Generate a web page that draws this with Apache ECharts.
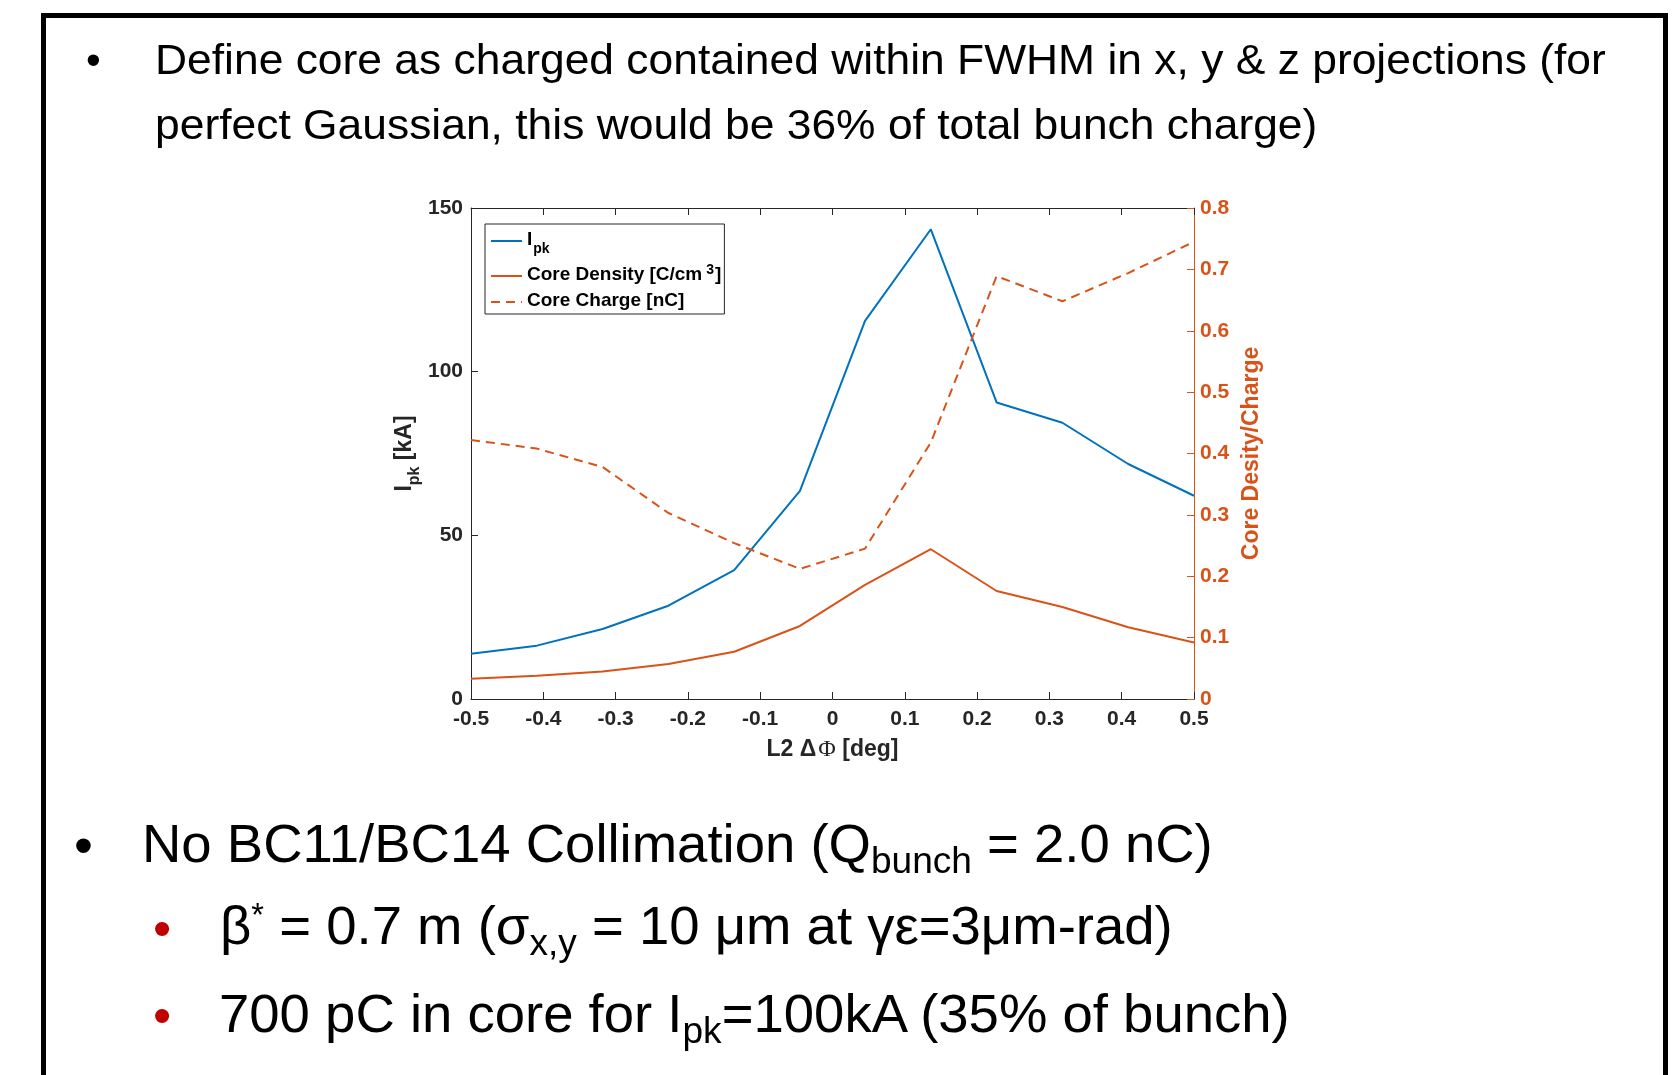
<!DOCTYPE html>
<html>
<head>
<meta charset="utf-8">
<script src="https://cdn.jsdelivr.net/npm/echarts@6/dist/echarts.min.js"></script>
<style>
html,body{margin:0;padding:0;background:#fff;}
body{width:1680px;height:1075px;position:relative;overflow:hidden;font-family:"Liberation Sans",Arial,Helvetica,sans-serif;}
#frame{position:absolute;left:41px;top:13px;width:1617px;height:1100px;border:5px solid #000;border-bottom:none;box-sizing:content-box;}
#chart{position:absolute;left:0;top:0;width:1680px;height:1075px;}
.t{position:absolute;white-space:nowrap;color:#000;line-height:1;transform-origin:0 0;}
.sub{font-size:0.68em;vertical-align:-0.3em;line-height:0;}
.sup{font-size:0.6em;vertical-align:0.55em;line-height:0;}
</style>
</head>
<body>
<div id="frame"></div>
<div id="chart"></div>
<script>
// ---- data ----
const phaseOffsets = [-0.5, -0.409, -0.318, -0.227, -0.136, -0.045, 0.045, 0.136, 0.227, 0.318, 0.409, 0.5];
const peakCurrent  = [13.8, 16.3, 21.4, 28.5, 39.4, 63.6, 115.5, 143.5, 90.6, 84.4, 71.8, 62.1];
const coreDensity  = [0.033, 0.038, 0.045, 0.057, 0.077, 0.119, 0.186, 0.244, 0.176, 0.150, 0.117, 0.092];
const coreCharge   = [0.422, 0.408, 0.378, 0.303, 0.254, 0.212, 0.245, 0.418, 0.689, 0.648, 0.694, 0.745];
const seriesNames  = ['Ipk', 'Core Density', 'Core Charge'];

// ---- slide text ----
const textLines = [
  {html: '•', x: 86, base: 75, size: 42, color: '#000', sx: 1},
  {html: 'Define core as charged contained within FWHM in x, y &amp; z projections (for', x: 155, base: 75, size: 42, color: '#000', sx: 1.057},
  {html: 'perfect Gaussian, this would be 36% of total bunch charge)', x: 155, base: 140, size: 42, color: '#000', sx: 1.057},
  {html: '•', x: 74, base: 864, size: 54, color: '#000', sx: 1},
  {html: 'No BC11/BC14 Collimation (Q<span class="sub">bunch</span> = 2.0 nC)', x: 142, base: 863, size: 54.5, color: '#000', sx: 1},
  {html: '•', x: 153, base: 946, size: 52, color: '#c00000', sx: 1},
  {html: 'β<span class="sup">*</span> = 0.7 m (σ<span class="sub">x,y</span> = 10 μm at γε=3μm-rad)', x: 220, base: 945, size: 54.5, color: '#000', sx: 1},
  {html: '•', x: 153, base: 1033, size: 52, color: '#c00000', sx: 1},
  {html: '700 pC in core for I<span class="sub">pk</span>=100kA (35% of bunch)', x: 219, base: 1033, size: 54.5, color: '#000', sx: 1}
];
textLines.forEach(l => {
  const d = document.createElement('div');
  d.className = 't';
  d.innerHTML = l.html;
  d.style.left = l.x + 'px';
  d.style.top = (l.base - 0.8465 * l.size) + 'px';
  d.style.fontSize = l.size + 'px';
  d.style.color = l.color;
  if (l.sx !== 1) d.style.transform = 'scaleX(' + l.sx + ')';
  document.body.appendChild(d);
});

// ---- chart ----
const BLUE = '#0072BD', ORANGE = '#D95319', AX = '#262626';
const FONT = '"Liberation Sans", Arial, sans-serif';
const chart = echarts.init(document.getElementById('chart'), null, {renderer: 'canvas'});

const mk = arr => phaseOffsets.map((x, i) => [x, arr[i]]);

const labelStyle = c => ({color: c, fontSize: 21, fontWeight: 'bold', fontFamily: FONT});

const option = {
  animation: false,
  backgroundColor: 'transparent',
  grid: {left: 471, top: 208, right: 486, bottom: 376, containLabel: false},
  xAxis: [{
    type: 'value', min: -0.5, max: 0.5, interval: 0.1, position: 'bottom',
    axisLine: {show: true, onZero: false, lineStyle: {color: AX, width: 1}},
    axisTick: {show: true, inside: true, length: 7, lineStyle: {color: AX}},
    axisLabel: Object.assign({margin: 10}, labelStyle(AX)),
    splitLine: {show: false},
    name: '{a|L2 Δ}{p|Φ}{a| [deg]}',
    nameLocation: 'middle', nameGap: 39,
    nameTextStyle: {rich: {
      a: {fontSize: 23, fontWeight: 'bold', fontFamily: FONT, color: AX},
      p: {fontSize: 24, fontFamily: '"Liberation Serif", "DejaVu Serif", serif', color: AX, padding: [0, 0, 0, 2]}
    }}
  }, {
    type: 'value', min: -0.5, max: 0.5, interval: 0.1, position: 'top',
    axisLine: {show: true, onZero: false, lineStyle: {color: AX, width: 1}},
    axisTick: {show: true, inside: true, length: 7, lineStyle: {color: AX}},
    axisLabel: {show: false},
    splitLine: {show: false}
  }],
  yAxis: [{
    type: 'value', min: 0, max: 150, interval: 50, position: 'left',
    axisLine: {show: true, onZero: false, lineStyle: {color: AX, width: 1}},
    axisTick: {show: true, inside: true, length: 7, lineStyle: {color: AX}},
    axisLabel: Object.assign({margin: 8}, labelStyle(AX)),
    splitLine: {show: false},
    name: '{a|I}{s|pk}{a| [kA]}',
    nameLocation: 'middle', nameRotate: 90, nameGap: 54,
    nameTextStyle: {rich: {
      a: {fontSize: 23, fontWeight: 'bold', fontFamily: FONT, color: AX, verticalAlign: 'top', lineHeight: 24},
      s: {fontSize: 16, fontWeight: 'bold', fontFamily: FONT, color: AX, verticalAlign: 'top', lineHeight: 16, padding: [14, 0, 0, 0]}
    }}
  }, {
    type: 'value', min: 0, max: 0.8, interval: 0.1, position: 'right',
    axisLine: {show: true, onZero: false, lineStyle: {color: ORANGE, width: 1}},
    axisTick: {show: true, inside: true, length: 7, lineStyle: {color: ORANGE}},
    axisLabel: Object.assign({margin: 6}, labelStyle(ORANGE)),
    splitLine: {show: false},
    name: 'Core Desity/Charge',
    nameLocation: 'middle', nameRotate: 90, nameGap: 46,
    nameTextStyle: {fontSize: 23, fontWeight: 'bold', fontFamily: FONT, color: ORANGE}
  }],
  legend: {
    show: true, orient: 'vertical', left: 485, top: 224,
    padding: [6, 3, 4, 5], itemGap: 7, itemWidth: 31, itemHeight: 14,
    backgroundColor: '#fff', borderColor: AX, borderWidth: 1, borderRadius: 0,
    selectedMode: false, z: 10,
    itemStyle: {opacity: 0},
    data: seriesNames,
    formatter: function (name) {
      if (name === 'Ipk') return '{a|I}{s|pk}';
      if (name === 'Core Density') return '{a|Core Density [C/cm}{u|3}{a|]}';
      return '{a|Core Charge [nC]}';
    },
    textStyle: {
      color: '#000',
      rich: {
        a: {fontSize: 19, fontWeight: 'bold', fontFamily: FONT, color: '#000', verticalAlign: 'top', lineHeight: 22},
        s: {fontSize: 14, fontWeight: 'bold', fontFamily: FONT, color: '#000', verticalAlign: 'top', lineHeight: 14, padding: [12, 0, 0, 1]},
        u: {fontSize: 14, fontWeight: 'bold', fontFamily: FONT, color: '#000', verticalAlign: 'top', lineHeight: 14, padding: [-2, 1, 0, 4]}
      }
    }
  },
  series: [{
    name: 'Ipk', type: 'line', xAxisIndex: 0, yAxisIndex: 0,
    data: mk(peakCurrent), symbol: 'none', showSymbol: false,
    lineStyle: {color: BLUE, width: 2}, itemStyle: {color: BLUE}
  }, {
    name: 'Core Density', type: 'line', xAxisIndex: 0, yAxisIndex: 1,
    data: mk(coreDensity), symbol: 'none', showSymbol: false,
    lineStyle: {color: ORANGE, width: 2}, itemStyle: {color: ORANGE}
  }, {
    name: 'Core Charge', type: 'line', xAxisIndex: 0, yAxisIndex: 1,
    data: mk(coreCharge), symbol: 'none', showSymbol: false,
    lineStyle: {color: ORANGE, width: 2, type: [9, 6]}, itemStyle: {color: ORANGE}
  }]
};
chart.setOption(option);
</script>
</body>
</html>
